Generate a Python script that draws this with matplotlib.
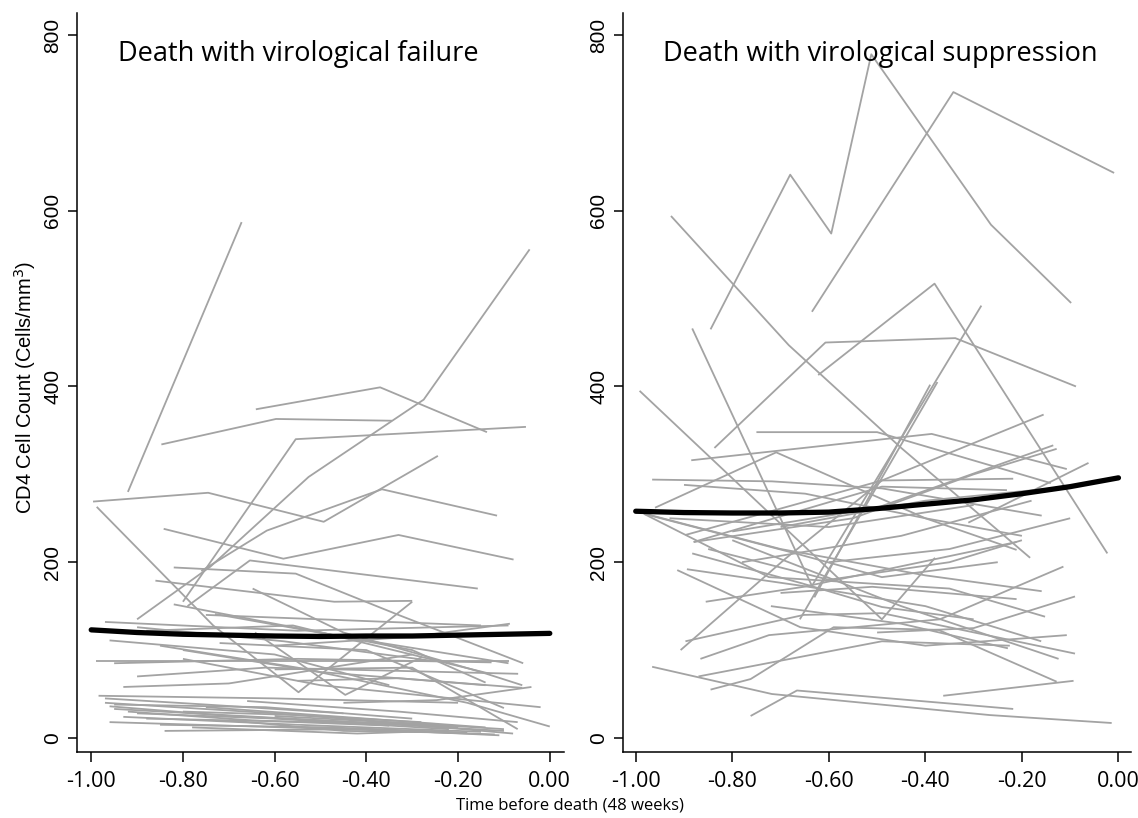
import matplotlib
matplotlib.use("Agg")
import matplotlib.pyplot as plt
from matplotlib import font_manager

# ---------------- data ----------------
x_ticks = [-1.0, -0.8, -0.6, -0.4, -0.2, 0.0]
x_tick_labels = ["-1.00", "-0.80", "-0.60", "-0.40", "-0.20", "0.00"]
y_ticks = [0, 200, 400, 600, 800]
y_tick_labels = ["0", "200", "400", "600", "800"]

panel_titles = ["Death with virological failure", "Death with virological suppression"]

# Left panel: individual trajectories (time, CD4)
left_times = [
    [-0.92, -0.672], [-0.641, -0.370, -0.137], [-0.847, -0.597, -0.344],
    [-0.80, -0.554, -0.052], [-0.90, -0.74, -0.526, -0.275, -0.044],
    [-0.996, -0.745, -0.493, -0.244], [-0.76, -0.617, -0.366, -0.115],
    [-0.842, -0.581, -0.330, -0.079], [-0.79, -0.654, -0.157],
    [-0.82, -0.554, -0.33, -0.058], [-0.988, -0.734, -0.548, -0.30],
    [-0.643, -0.446, -0.279],
    [-0.97, -0.55, -0.09], [-0.86, -0.47, -0.30], [-0.73, -0.45, -0.09],
    [-0.99, -0.09], [-0.95, -0.55, -0.127], [-0.96, -0.60, -0.35],
    [-0.90, -0.62, -0.069], [-0.93, -0.70, -0.30], [-0.984, -0.60, -0.20],
    [-0.80, -0.50, -0.14], [-0.90, -0.58, -0.26], [-0.648, -0.45, -0.15, -0.06],
    [-0.75, -0.50, -0.15], [-0.55, -0.33, -0.06], [-0.45, -0.247, -0.04],
    [-0.80, -0.50, -0.02], [-0.85, -0.55, -0.18, 0.00], [-0.72, -0.40, -0.10],
    [-0.60, -0.30, -0.07], [-0.88, -0.56, -0.13], [-0.60, -0.30, -0.087],
    [-0.82, -0.30, -0.14],
    [-0.97, -0.60, -0.20], [-0.95, -0.50, -0.10], [-0.96, -0.70, -0.30, -0.08],
    [-0.93, -0.55, -0.15], [-0.96, -0.45, -0.12], [-0.90, -0.60, -0.22],
    [-0.84, -0.40, -0.11], [-0.92, -0.65, -0.35], [-0.88, -0.50, -0.25],
    [-0.75, -0.40, -0.14], [-0.70, -0.45, -0.20], [-0.95, -0.62, -0.30],
    [-0.80, -0.55, -0.28], [-0.66, -0.33, -0.07], [-0.60, -0.25, -0.10],
    [-0.97, -0.75, -0.45], [-0.85, -0.48, -0.18], [-0.78, -0.42, -0.24],
]
left_values = [
    [280, 587], [374, 399, 348], [334, 363, 361],
    [155, 340, 354], [135, 195, 297, 385, 556],
    [269, 279, 246, 321], [190, 236, 283, 253],
    [238, 204, 231, 203], [150, 202, 170],
    [194, 187, 140, 85], [263, 128, 52, 155],
    [120, 49, 92],
    [132, 122, 128], [179, 155, 156], [141, 115, 85],
    [87, 87], [85, 90, 86], [111, 95, 60],
    [70, 80, 73], [58, 62, 95], [48, 45, 40],
    [100, 75, 60], [126, 110, 88], [170, 120, 75, 60],
    [140, 135, 128], [65, 68, 57], [40, 43, 58],
    [90, 60, 35], [105, 80, 40, 13], [108, 100, 34],
    [78, 80, 10], [122, 128, 73], [105, 115, 130],
    [152, 100, 63],
    [40, 28, 12], [33, 20, 8], [36, 25, 15, 5],
    [24, 15, 7], [18, 10, 4], [28, 22, 10],
    [8, 10, 3], [30, 20, 14], [22, 18, 16],
    [35, 22, 12], [20, 8, 6], [38, 35, 22],
    [30, 26, 18], [42, 30, 18], [25, 15, 10],
    [45, 38, 28], [15, 12, 6], [12, 5, 8],
]

# Right panel: individual trajectories (time, CD4)
right_times = [
    [-0.845, -0.680, -0.595, -0.512, -0.264, -0.098],
    [-0.635, -0.342, -0.009], [-0.927, -0.683, -0.45, -0.183],
    [-0.622, -0.381, -0.023], [-0.837, -0.607, -0.338, -0.088],
    [-0.883, -0.635, -0.284], [-0.66, -0.375], [-0.63, -0.39],
    [-0.992, -0.49, -0.38], [-0.75, -0.50, -0.14],
    [-0.885, -0.387, -0.107], [-0.96, -0.709, -0.40, -0.211],
    [-0.966, -0.718, -0.49, -0.159], [-0.90, -0.649, -0.40, -0.20],
    [-0.966, -0.718, -0.266, -0.014], [-0.762, -0.666, -0.218],
    [-0.363, -0.093], [-0.845, -0.762, -0.59, -0.373, -0.128],
    [-0.87, -0.49, -0.225], [-0.866, -0.724, -0.37, -0.114],
    [-0.897, -0.652, -0.49, -0.09], [-0.907, -0.69, -0.49, -0.155],
    [-0.914, -0.659, -0.40, -0.107],
    [-0.80, -0.50, -0.135], [-0.88, -0.55, -0.30, -0.128],
    [-0.311, -0.062], [-0.98, -0.70, -0.40, -0.159],
    [-0.983, -0.724, -0.35, -0.152], [-0.50, -0.30, -0.09],
    [-0.80, -0.45, -0.124], [-0.70, -0.51, -0.211],
    [-0.855, -0.652, -0.211], [-0.897, -0.49, -0.218],
    [-0.88, -0.49, -0.231], [-0.883, -0.656, -0.49, -0.30],
    [-0.894, -0.642, -0.40, -0.16], [-0.983, -0.669, -0.49, -0.25],
    [-0.93, -0.60, -0.30], [-0.78, -0.45, -0.18], [-0.70, -0.40, -0.12],
    [-0.85, -0.60, -0.35, -0.20], [-0.60, -0.35, -0.10],
    [-0.72, -0.45, -0.229],
]
right_values = [
    [465, 641, 574, 778, 584, 495],
    [485, 735, 643], [594, 447, 330, 205],
    [413, 517, 210], [330, 450, 455, 400],
    [466, 173, 492], [135, 405], [160, 402],
    [395, 135, 205], [348, 348, 290],
    [316, 346, 306], [262, 325, 250, 214],
    [294, 292, 284, 253], [288, 278, 250, 230],
    [81, 50, 26, 17], [25, 54, 33],
    [48, 65], [55, 67, 126, 123, 64],
    [70, 110, 105], [90, 117, 135, 195],
    [110, 140, 142, 96], [100, 204, 293, 368],
    [191, 126, 105, 117],
    [235, 262, 333], [223, 250, 300, 329],
    [245, 313], [255, 215, 185, 167],
    [255, 183, 170, 138], [120, 125, 161],
    [225, 150, 90], [165, 172, 158],
    [155, 172, 223], [231, 293, 295],
    [223, 286, 282], [210, 176, 149, 135],
    [192, 172, 150, 110], [255, 210, 183, 200],
    [250, 240, 265], [200, 230, 270], [240, 270, 285],
    [215, 180, 200, 225], [200, 215, 250],
    [150, 130, 102],
]

# Mean (fitted) curves
left_mean_t = [-1.0, -0.9, -0.8, -0.7, -0.6, -0.5, -0.4, -0.3, -0.2, -0.1, 0.0]
left_mean_v = [123, 120, 118, 117, 116, 115.5, 116, 116, 117, 118, 119]
right_mean_t = [-1.0, -0.9, -0.8, -0.7, -0.6, -0.5, -0.4, -0.3, -0.2, -0.1, 0.0]
right_mean_v = [258, 256.5, 256, 256, 257, 261, 266, 271, 278, 286, 296]

x_label = "Time before death (48 weeks)"
y_label = "CD4 Cell Count (Cells/mm$^3$)"

# ---------------- fonts ----------------
available = {f.name for f in font_manager.fontManager.ttflist}
if "Liberation Sans Narrow" in available:
    narrow_family = ["Liberation Sans Narrow", "DejaVu Sans"]
    tick_size, label_size = 16, 16
else:
    narrow_family = ["Liberation Sans", "DejaVu Sans"]
    tick_size, label_size = 15, 14.5
text_family = ["Open Sans", "DejaVu Sans"]

# ---------------- figure ----------------
W, H = 1138, 818
fig = plt.figure(figsize=(W / 100, H / 100), dpi=100)

gray = "#a3a3a3"
panels = [
    dict(rect=(77 / W, 1 - 752 / H, 487 / W, 739 / H), xlim=(-1.031, 0.031),
         times=left_times, values=left_values, mt=left_mean_t, mv=left_mean_v,
         title=panel_titles[0], tx=0.084),
    dict(rect=(622.7 / W, 1 - 752 / H, 508.3 / W, 739 / H), xlim=(-1.027, 0.026),
         times=right_times, values=right_values, mt=right_mean_t, mv=right_mean_v,
         title=panel_titles[1], tx=0.079),
]

for p in panels:
    ax = fig.add_axes(p["rect"])
    for t, v in zip(p["times"], p["values"]):
        ax.plot(t, v, color=gray, lw=1.3, solid_capstyle="butt", zorder=2)
    ax.plot(p["mt"], p["mv"], color="black", lw=3.8, solid_capstyle="round", zorder=3)
    ax.set_xlim(*p["xlim"])
    ax.set_ylim(-16, 825)
    for s in ("top", "right"):
        ax.spines[s].set_visible(False)
    for s in ("left", "bottom"):
        ax.spines[s].set_linewidth(1.1)
    ax.set_xticks(x_ticks)
    ax.set_xticklabels(x_tick_labels, family=text_family, fontsize=15.5)
    ax.set_yticks(y_ticks)
    ax.set_yticklabels(y_tick_labels, family=narrow_family, fontsize=tick_size,
                       rotation=90, va="center")
    ax.tick_params(axis="x", direction="out", length=7.5, width=1.1, pad=6)
    ax.tick_params(axis="y", direction="out", length=6.5, width=1.1, pad=4)
    ax.text(p["tx"], 0.945, p["title"], transform=ax.transAxes, ha="left",
            va="center", family=text_family, fontsize=19.5)

fig.text(25 / W, 1 - 387 / H, y_label, rotation=90, ha="center", va="center",
         family=narrow_family, fontsize=label_size)
fig.text(570 / W, 1 - 805 / H, x_label, ha="center", va="center",
         family=text_family, fontsize=12)

fig.savefig("out.png", dpi=100)
